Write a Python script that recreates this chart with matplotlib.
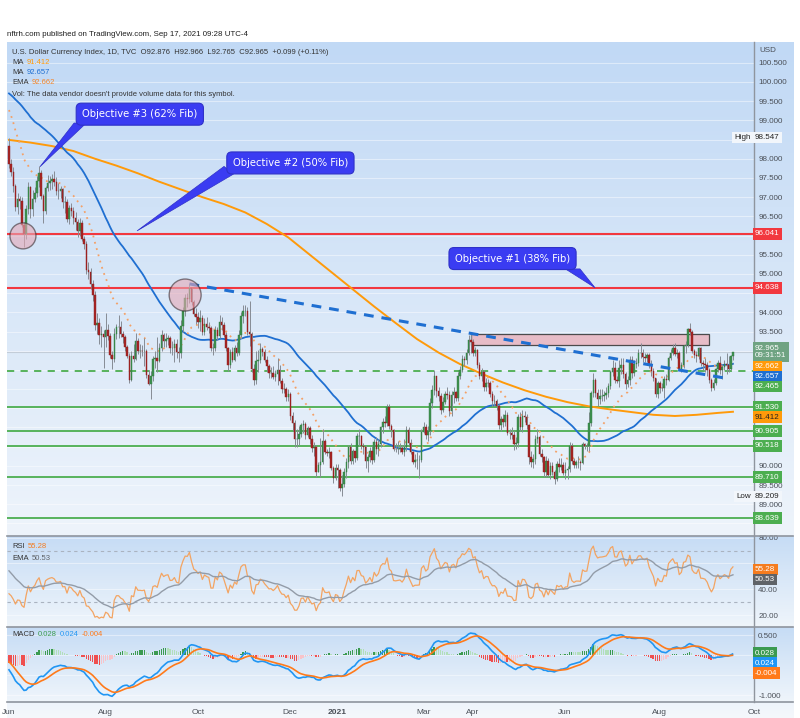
import numpy as np
import pandas as pd
import matplotlib
matplotlib.use('Agg')
import matplotlib.pyplot as plt
from matplotlib.colors import LinearSegmentedColormap
from matplotlib.patches import Polygon, Rectangle
from matplotlib.lines import Line2D

plt.rcParams['font.family'] = ['Liberation Sans Narrow', 'Liberation Sans', 'DejaVu Sans']

# DXY closes Apr-May 2020, only used to warm up the indicators (not drawn)
warmup_closes = [
    99.63, 100.23, 100.55, 100.67, 99.99, 100.09, 99.52, 99.44, 99.44, 98.89, 99.47,
    99.95, 99.77, 100.03, 100.22, 100.39, 100.44, 100.37, 100.10, 99.86, 99.50, 99.02,
    99.05, 99.45, 99.83, 100.23, 99.73, 99.75, 100.17, 100.01, 100.21, 100.44, 100.37,
    99.56, 99.62, 99.12, 99.43, 99.86, 99.79, 98.94, 99.04, 98.43, 98.34,
]

# DXY daily bars, 1 Jun 2020 - 17 Sep 2021 (open = previous close)
closes = [
    97.86, 97.66, 97.29, 96.73, 96.94, 96.90, 96.28, 96.05, 96.69, 97.26, 96.68, 96.96, 97.10, 97.43, 97.64, 97.02, 96.64, 97.24, 97.36, 97.43, 97.47, 97.39,
    97.17, 97.16, 97.20, 96.86, 96.87, 96.43, 96.72, 96.65, 96.46, 96.34, 96.11, 96.32, 95.92, 95.79, 95.09, 95.05, 94.74, 94.44, 93.68, 93.71, 93.40, 93.44, 93.35,
    93.53, 93.38, 92.88, 92.79, 93.43, 93.62, 93.62, 93.44, 93.35, 93.09, 92.86, 92.24, 92.87, 92.79, 93.26, 93.00, 93.00, 92.98, 93.00, 92.37, 92.14,
    92.35, 92.78, 92.82, 92.72, 93.08, 93.41, 93.24, 93.31, 93.33, 93.06, 93.07, 93.18, 92.97, 92.93, 93.64, 94.03, 94.36, 94.35, 94.64, 94.28, 93.96, 93.89,
    93.76, 93.84, 93.49, 93.70, 93.63, 93.59, 93.06, 93.06, 93.53, 93.38, 93.76, 93.68, 93.42, 93.06, 92.62, 92.97, 92.77, 93.06, 92.93, 93.41, 93.91, 94.04,
    94.04, 93.48, 93.44, 92.53, 92.23, 92.73, 92.76, 93.05, 92.97, 92.76, 92.60, 92.42, 92.43, 92.31, 92.39, 92.51, 92.21, 92.01, 91.99, 91.79, 91.87,
    91.31, 91.11, 90.70, 90.70, 90.83, 91.07, 91.08, 90.80, 90.98, 90.71, 90.46, 90.49, 89.84, 90.02, 90.10, 90.65, 90.36, 90.33, 90.36, 89.95, 89.68, 89.94,
    89.88, 89.43, 89.53, 89.83, 90.10, 90.49, 90.13, 90.39, 90.21, 90.77, 90.78, 90.52, 90.48, 90.12, 90.22, 90.38, 90.16, 90.63, 90.44, 90.58,
    91.00, 91.15, 91.13, 91.53, 91.04, 90.94, 90.45, 90.43, 90.45, 90.47, 90.37, 90.50, 90.94, 90.59, 90.36, 90.10, 90.15, 90.15, 90.16, 90.88,
    91.02, 90.80, 90.90, 91.65, 91.98, 92.34, 91.94, 91.82, 91.45, 91.67, 91.88, 91.84, 91.44, 91.85, 91.92, 91.76, 92.35, 92.49, 92.79, 92.75, 92.95, 93.29, 93.23,
    92.93, 93.02, 92.64, 92.33, 92.45, 92.05, 92.16, 92.15, 91.86, 91.68, 91.69, 91.56, 91.06, 91.22, 91.15, 91.32, 90.86, 90.85, 90.81, 90.58, 90.59, 91.28,
    91.00, 91.29, 91.27, 91.06, 90.22, 90.10, 90.19, 90.70, 90.75, 90.32, 90.22, 89.83, 90.13, 89.77, 90.01, 89.83, 89.66, 90.06, 89.97, 90.03, 89.82,
    89.90, 89.91, 90.52, 90.13, 90.03, 90.09, 90.09, 90.08, 90.58, 90.52, 90.53, 91.11, 91.90, 92.23, 91.90, 91.75, 91.81, 91.82, 91.85, 91.89, 92.09, 92.44,
    92.56, 92.23, 92.22, 92.55, 92.63, 92.39, 92.12, 92.24, 92.76, 92.43, 92.66, 92.69, 92.93, 92.95, 92.84, 92.82, 92.90, 92.62, 92.46, 92.28, 91.87, 92.17,
    92.03, 92.02, 92.26, 92.23, 92.80, 92.95, 93.07, 92.92, 92.95, 92.52, 92.62, 93.12, 93.16, 93.56, 93.50, 93.00, 92.88, 92.85, 93.06, 92.67, 92.66, 92.63,
    92.50, 92.23, 92.03, 92.16, 92.52, 92.67, 92.50, 92.58, 92.66, 92.62, 92.53, 92.86, 92.965,
]
highs = [
    98.55, 97.98, 97.78, 97.34, 97.12, 97.04, 97.00, 96.36, 96.80, 97.40, 97.30, 97.18, 97.27, 97.55, 97.82, 97.70, 97.08, 97.30, 97.58, 97.54, 97.60, 97.68,
    97.52, 97.38, 97.30, 97.25, 97.02, 96.95, 96.80, 96.85, 96.75, 96.60, 96.42, 96.45, 96.40, 96.00, 95.85, 95.30, 95.15, 94.85, 94.55, 93.98, 93.85, 93.65, 93.55,
    93.99, 93.70, 93.45, 93.00, 93.60, 93.70, 93.92, 93.77, 93.52, 93.42, 93.15, 92.94, 92.98, 93.18, 93.45, 93.34, 93.18, 93.14, 93.32, 93.05, 92.50,
    92.48, 92.86, 93.00, 93.35, 93.20, 93.54, 93.45, 93.45, 93.42, 93.38, 93.25, 93.30, 93.30, 93.10, 93.80, 94.15, 94.48, 94.50, 94.74, 94.60, 94.32, 94.10,
    94.00, 94.05, 93.92, 93.85, 93.88, 93.75, 93.65, 93.20, 93.65, 93.62, 93.92, 93.88, 93.75, 93.48, 93.10, 93.05, 93.10, 93.16, 93.22, 93.55, 94.02, 94.20,
    94.20, 94.15, 94.30, 93.50, 92.65, 93.00, 93.02, 93.21, 93.10, 93.05, 92.85, 92.65, 92.58, 92.60, 92.50, 92.80, 92.62, 92.30, 92.15, 92.05, 92.00,
    91.92, 91.40, 91.20, 90.95, 91.05, 91.12, 91.20, 91.15, 91.05, 91.05, 90.80, 90.62, 90.55, 90.10, 90.72, 90.95, 90.70, 90.45, 90.50, 90.40, 90.00, 90.05,
    90.05, 89.95, 89.75, 89.95, 90.20, 90.55, 90.60, 90.45, 90.40, 90.85, 90.95, 90.80, 90.60, 90.55, 90.32, 90.50, 90.52, 90.70, 90.75, 90.70,
    91.05, 91.25, 91.30, 91.60, 91.60, 91.10, 90.95, 90.60, 90.65, 90.60, 90.55, 90.70, 91.05, 91.00, 90.70, 90.40, 90.30, 90.35, 90.28, 90.95,
    91.15, 91.10, 91.05, 91.78, 92.10, 92.50, 92.35, 92.05, 91.90, 91.80, 91.95, 92.05, 91.95, 91.95, 92.05, 91.95, 92.45, 92.60, 92.90, 92.85, 93.05, 93.40, 93.44,
    93.30, 93.10, 93.05, 92.70, 92.55, 92.50, 92.30, 92.25, 92.20, 91.95, 91.85, 91.75, 91.60, 91.30, 91.35, 91.45, 91.40, 90.95, 91.00, 90.90, 90.75, 91.35,
    91.40, 91.45, 91.43, 91.35, 91.10, 90.40, 90.30, 90.80, 90.95, 90.80, 90.45, 90.25, 90.25, 90.20, 90.10, 90.10, 89.90, 90.12, 90.20, 90.20, 90.10,
    90.10, 90.00, 90.63, 90.60, 90.20, 90.15, 90.25, 90.15, 90.62, 90.60, 90.60, 91.40, 91.95, 92.41, 92.30, 92.00, 92.00, 92.00, 91.95, 92.05, 92.15, 92.50,
    92.75, 92.70, 92.35, 92.75, 92.80, 92.80, 92.45, 92.35, 92.85, 92.85, 92.75, 92.80, 93.05, 93.20, 93.05, 92.95, 92.95, 92.95, 92.75, 92.55, 92.30, 92.20,
    92.20, 92.15, 92.35, 92.40, 92.85, 93.05, 93.18, 93.20, 93.05, 93.00, 92.70, 93.15, 93.25, 93.59, 93.73, 93.55, 93.05, 93.00, 93.10, 93.10, 92.75, 92.80,
    92.70, 92.55, 92.30, 92.25, 92.55, 92.75, 92.85, 92.65, 92.75, 92.95, 92.85, 92.90, 92.97,
]
lows = [
    97.76, 97.54, 97.13, 96.63, 96.56, 96.70, 96.22, 95.71, 95.90, 96.57, 96.45, 96.52, 96.87, 97.00, 97.27, 96.95, 96.32, 96.55, 97.15, 97.18, 97.22, 97.30,
    97.05, 96.95, 96.98, 96.72, 96.58, 96.36, 96.30, 96.50, 96.30, 96.15, 95.95, 96.00, 95.85, 95.65, 95.00, 94.88, 94.60, 94.30, 93.55, 93.43, 93.17, 93.10, 92.55,
    93.10, 93.28, 92.80, 92.52, 92.70, 93.30, 93.33, 93.35, 93.20, 93.00, 92.80, 92.15, 92.20, 92.70, 92.76, 92.92, 92.80, 92.85, 92.60, 92.30, 92.10,
    91.75, 92.20, 92.55, 92.45, 92.70, 93.00, 93.10, 93.10, 93.15, 92.95, 92.90, 92.70, 92.80, 92.70, 92.80, 93.50, 93.90, 94.15, 94.24, 94.20, 93.90, 93.70,
    93.60, 93.52, 93.40, 93.40, 93.55, 93.45, 92.98, 92.90, 93.00, 93.28, 93.32, 93.55, 93.35, 92.98, 92.47, 92.55, 92.70, 92.72, 92.85, 92.90, 93.35, 93.72,
    93.90, 93.40, 93.12, 92.45, 92.10, 92.13, 92.45, 92.68, 92.85, 92.70, 92.45, 92.30, 92.30, 92.25, 92.20, 92.10, 92.15, 91.90, 91.90, 91.70, 91.70,
    91.20, 90.90, 90.50, 90.50, 90.55, 90.75, 90.85, 90.70, 90.75, 90.58, 90.35, 90.25, 89.72, 89.85, 89.70, 90.05, 90.30, 90.25, 90.20, 89.90, 89.55, 89.62,
    89.42, 89.35, 89.21, 89.45, 89.68, 89.95, 90.05, 90.05, 90.10, 90.15, 90.55, 90.45, 90.30, 89.95, 89.85, 90.10, 90.05, 90.10, 90.30, 90.25,
    90.50, 90.85, 91.00, 91.05, 90.95, 90.75, 90.40, 90.35, 90.30, 90.35, 90.30, 90.25, 90.40, 90.55, 90.30, 90.05, 89.98, 89.93, 89.68, 90.10,
    90.85, 90.70, 90.65, 90.80, 91.50, 91.85, 91.80, 91.70, 91.35, 91.40, 91.60, 91.75, 91.30, 91.30, 91.65, 91.70, 91.70, 92.25, 92.45, 92.60, 92.65, 92.90, 92.95,
    92.85, 92.85, 92.55, 92.25, 92.20, 91.95, 91.95, 92.05, 91.80, 91.55, 91.55, 91.45, 90.95, 90.90, 91.00, 91.05, 90.80, 90.70, 90.70, 90.42, 90.45, 90.50,
    90.90, 90.88, 91.15, 90.95, 90.05, 89.98, 89.95, 90.05, 90.60, 90.25, 90.10, 89.70, 89.70, 89.70, 89.65, 89.75, 89.53, 89.60, 89.85, 89.90, 89.75,
    89.66, 89.65, 89.85, 90.05, 89.95, 89.95, 89.95, 89.90, 90.05, 90.45, 90.40, 90.40, 91.05, 91.80, 91.80, 91.55, 91.60, 91.70, 91.70, 91.75, 91.80, 92.00,
    92.35, 92.15, 92.15, 92.05, 92.40, 92.30, 92.00, 92.05, 92.10, 92.30, 92.35, 92.55, 92.60, 92.80, 92.70, 92.70, 92.70, 92.55, 92.35, 92.20, 91.80, 91.78,
    91.90, 91.95, 91.78, 92.10, 92.20, 92.75, 92.90, 92.85, 92.80, 92.50, 92.45, 92.55, 92.95, 93.10, 93.40, 92.95, 92.80, 92.70, 92.78, 92.60, 92.50, 92.45,
    92.35, 92.15, 91.94, 91.98, 92.10, 92.45, 92.40, 92.25, 92.50, 92.40, 92.45, 92.50, 92.77,
]

# 200-day MA, every ten bars
ma200_bars = [0, 10, 20, 30, 40, 50, 60, 70, 80, 90, 100, 110, 120, 130, 140, 150, 160, 170,
              180, 190, 200, 210, 220, 230, 240, 250, 260, 270, 280, 290, 300, 310, 320, 330, 337]
ma200_vals = [98.49, 98.42, 98.33, 98.20, 98.00, 97.82, 97.62, 97.40, 97.20, 97.00, 96.82, 96.60,
              96.30, 95.95, 95.50, 95.05, 94.60, 94.15, 93.72, 93.30, 92.95, 92.65, 92.40, 92.17,
              91.97, 91.80, 91.66, 91.55, 91.47, 91.40, 91.33, 91.30, 91.33, 91.38, 91.41]

month_bars = [0, 45, 88, 131, 153, 193, 216, 259, 303, 347]
month_labels = ['Jun', 'Aug', 'Oct', 'Dec', '2021', 'Mar', 'Apr', 'Jun', 'Aug', 'Oct']

red_levels = [96.041, 94.638]
green_levels = [91.530, 90.905, 90.518, 89.710, 88.639]
dashed_level = 92.465
last_price = 92.965
range_high, range_low = 98.547, 89.209
ma200_last, ma50_last, ema_last = 91.412, 92.657, 92.662
rsi_last, rsi_ema_last = 55.28, 50.53
hist_last, macd_last, signal_last = 0.028, 0.024, -0.004

trend_bars, trend_vals = [84, 335], [94.74, 92.27]
zone_bars, zone_vals = [215, 326], [93.15, 93.44]
circle_bars, circle_vals, circle_sizes = [6.5, 82], [95.99, 94.45], [350, 530]

callouts = [
    # text, box centre, wedge base 1, wedge base 2, tip   (bar, price)
    ('Objective #3 (62% Fib)', (60.9, 99.16), (30.3, 98.93), (36.0, 98.93), (14.4, 97.79)),
    ('Objective #2 (50% Fib)', (131.0, 97.89), (100.1, 97.80), (104.5, 97.60), (59.6, 96.12)),
    ('Objective #1 (38% Fib)', (234.4, 95.40), (259.0, 95.13), (265.8, 95.13), (272.8, 94.64)),
]

# ---------------------------------------------------------------- indicators
full = pd.Series(warmup_closes + closes, dtype=float)
nw = len(warmup_closes)
ma50 = full.rolling(50, min_periods=20).mean().values[nw:]
ema20 = full.ewm(span=20, adjust=False).mean().values[nw:]
delta = full.diff()
gain = delta.clip(lower=0).ewm(alpha=1 / 14, adjust=False).mean()
loss = (-delta.clip(upper=0)).ewm(alpha=1 / 14, adjust=False).mean()
rsi_full = 100 - 100 / (1 + gain / loss)
rsi = rsi_full.values[nw:]
rsi_ema = rsi_full.ewm(span=20, adjust=False).mean().values[nw:]
macd_full = full.ewm(span=12, adjust=False).mean() - full.ewm(span=26, adjust=False).mean()
signal_full = macd_full.ewm(span=9, adjust=False).mean()
macd = macd_full.values[nw:]
signal = signal_full.values[nw:]
hist_full = macd_full - signal_full
hist = hist_full.values[nw:]
hist_prev = hist_full.shift(1).values[nw:]

c = np.array(closes)
o = np.r_[warmup_closes[-1], c[:-1]]
h = np.maximum(np.array(highs), np.maximum(o, c))
l = np.minimum(np.array(lows), np.minimum(o, c))
x = np.arange(len(c))

# ---------------------------------------------------------------- layout
W, H = 800, 718
fig = plt.figure(figsize=(W / 100, H / 100), dpi=100)
fig.patch.set_facecolor('white')
renderer = fig.canvas.get_renderer()


def frame(top, bottom, left=7, right=754):
    return [left / W, 1 - bottom / H, (right - left) / W, (bottom - top) / H]


def px(xp, yp):
    return xp / W, 1 - yp / H


def backdrop(top, bottom, c0, c1):
    bg = fig.add_axes(frame(top, bottom, 7, 793), zorder=-10)
    cmap = LinearSegmentedColormap.from_list('bg', [c0, c1])
    bg.imshow(np.linspace(0, 1, 200)[:, None], aspect='auto', cmap=cmap, extent=(0, 1, 0, 1))
    bg.axis('off')


backdrop(42, 536, '#c1d9f5', '#eef4fb')
backdrop(536, 627, '#c6dcf5', '#eff5fb')
backdrop(627, 702, '#c6dcf5', '#eff5fb')
backdrop(702, 718, '#eef4fb', '#f5f8fc')

XLIM = (-0.93, 346.8)


def pane(top, bottom, ylim, ticks, fmt):
    ax = fig.add_axes(frame(top, bottom))
    ax.set_facecolor('none')
    ax.set_xlim(*XLIM)
    ax.set_ylim(*ylim)
    for s in ax.spines.values():
        s.set_visible(False)
    ax.set_xticks([])
    ax.yaxis.tick_right()
    ax.set_yticks(ticks)
    ax.set_yticklabels([fmt % t for t in ticks])
    ax.tick_params(axis='y', length=0, pad=3, labelsize=5.8, labelcolor='#4a4f57')
    ax.grid(axis='y', color='white', alpha=0.45, lw=0.8)
    return ax


ax = pane(42, 535, (88.2, 101.04), np.arange(88.5, 100.51, 0.5), '%.3f')
ax_rsi = pane(537, 626, (11.5, 80.5), [20, 40, 60, 80], '%.2f')
ax_macd = pane(628, 702, (-1.175, 0.675), [0.5, 0.0, -0.5, -1.0], '%.3f')

# ---------------------------------------------------------------- price pane
for lv in red_levels:
    ax.axhline(lv, color='#f2383f', lw=1.5, zorder=2)
for lv in green_levels:
    ax.axhline(lv, color='#4cae50', lw=1.3, zorder=2)
ax.axhline(dashed_level, color='#4cae50', lw=1.3, ls=(0, (4, 3.5)), zorder=2)
ax.axhline(last_price, color='#c2ccd8', lw=0.8, zorder=1)

ax.add_patch(Rectangle((zone_bars[0], zone_vals[0]), zone_bars[1] - zone_bars[0], zone_vals[1] - zone_vals[0],
                       fc='#e9b8c2', ec='#3c3c3c', lw=0.9, alpha=0.9, zorder=2))

ax.plot(ma200_bars, ma200_vals, color='#ff9a0a', lw=1.4, zorder=3)
ax.plot(x, ma50, color='#1f6fd1', lw=1.3, zorder=3)
ax.plot(x, ema20, color='#f4a066', lw=1.3, ls=(0, (1, 2.6)), zorder=3)

up = c >= o
ax.vlines(x, l, h, color='#868c94', lw=0.7, zorder=4)
ax.bar(x[up], (c - o)[up], bottom=o[up], width=0.7, color='#3f9150', ec='#2f7a40', lw=0.3, zorder=5)
ax.bar(x[~up], (o - c)[~up], bottom=c[~up], width=0.7, color='#a82626', ec='#8a1c1c', lw=0.3, zorder=5)

ax.plot(trend_bars, trend_vals, color='#1f6fd1', lw=2.2, ls=(0, (3.2, 2.6)), zorder=6)
ax.scatter(circle_bars, circle_vals, s=circle_sizes, fc='#e6a9b6', ec='#3a2f32', lw=1.0, alpha=0.6, zorder=7)

blue = '#3a3cf2'
for txt, box, b1, b2, tip in callouts:
    ax.add_patch(Polygon([b1, tip, b2], closed=True, fc=blue, ec='#2f31c8', lw=0.5, zorder=8))
    ax.text(box[0], box[1], txt, ha='center', va='center', color='white', fontsize=7.2,
            family=['DejaVu Sans'], zorder=9,
            bbox=dict(boxstyle='round,pad=0.6,rounding_size=0.5', fc=blue, ec='#2f31c8', lw=0.8))

# ---------------------------------------------------------------- RSI pane
for lv in (70, 30):
    ax_rsi.axhline(lv, color='#aab3c0', lw=0.8, ls=(0, (3, 3)))
ax_rsi.plot(x, rsi, color='#f3a462', lw=0.9)
ax_rsi.plot(x, rsi_ema, color='#939ca8', lw=1.0)

# ---------------------------------------------------------------- MACD pane
hcol = np.where(hist >= 0,
                np.where(hist >= hist_prev, '#3b9a50', '#b2dfba'),
                np.where(hist < hist_prev, '#ef4f4f', '#f8c3c9'))
ax_macd.bar(x, hist, width=0.6, color=hcol, zorder=2)
ax_macd.plot(x, macd, color='#2196f3', lw=1.2, zorder=3)
ax_macd.plot(x, signal, color='#ff7a1a', lw=1.2, zorder=3)

ax_macd.set_xticks(month_bars)
ax_macd.set_xticklabels(month_labels)
ax_macd.tick_params(axis='x', length=0, pad=5, labelsize=6, labelcolor='#4a4f57')
ax_macd.get_xticklabels()[4].set_fontweight('bold')

# ---------------------------------------------------------------- frame lines
for yy in (536, 627, 702):
    fig.add_artist(Line2D([7 / W, 793 / W], [1 - yy / H] * 2, color='#8f959e', lw=1.2))
fig.add_artist(Line2D([754 / W] * 2, [1 - 42 / H, 1 - 702 / H], color='#8f959e', lw=1.0))


# ---------------------------------------------------------------- axis label boxes
def axis_labels(a, items, xpos=755):
    placed = []
    for v, txt, fc, tc, hgt in sorted(items, key=lambda t: -t[0]):
        y = a.transData.transform((0, v))[1]
        if placed:
            py, ph = placed[-1]
            y = min(y, py - (ph + hgt) / 2)
        placed.append((y, hgt))
        fig.text(xpos / W, y / H, txt, ha='left', va='center', fontsize=5.8, color=tc,
                 linespacing=1.15, zorder=20,
                 bbox=dict(boxstyle='square,pad=0.28', fc=fc, ec='none'))
    # hide the scale labels that a box covers
    for t, lab in zip(a.get_yticks(), a.get_yticklabels()):
        ty = a.transData.transform((0, t))[1]
        if any(abs(ty - py) < ph / 2 + 2.5 for py, ph in placed):
            lab.set_visible(False)


axis_labels(ax, [
    (range_high, '98.547', '#f2f6fb', '#222222', 10),
    (red_levels[0], '96.041', '#f2383f', 'white', 10),
    (red_levels[1], '94.638', '#f2383f', 'white', 10),
    (last_price, '92.965\n09:31:51', '#6fa382', 'white', 19),
    (ema_last, '92.662', '#ff9a0a', 'white', 10),
    (ma50_last, '92.657', '#1f6fd1', 'white', 10),
    (dashed_level, '92.465', '#4cae50', 'white', 10),
    (green_levels[0], '91.530', '#4cae50', 'white', 10),
    (ma200_last, '91.412', '#ff9a0a', '#222222', 10),
    (green_levels[1], '90.905', '#4cae50', 'white', 10),
    (green_levels[2], '90.518', '#4cae50', 'white', 10),
    (green_levels[3], '89.710', '#4cae50', 'white', 10),
    (range_low, '89.209', '#f2f6fb', '#222222', 10),
    (green_levels[4], '88.639', '#4cae50', 'white', 10),
])
axis_labels(ax_rsi, [
    (rsi_last, '55.28', '#f57c1f', 'white', 10),
    (rsi_ema_last, '50.53', '#5f6368', 'white', 10),
])
axis_labels(ax_macd, [
    (hist_last + 0.02, '0.028', '#3b9a50', 'white', 10),
    (macd_last, '0.024', '#2196f3', 'white', 10),
    (signal_last - 0.02, '-0.004', '#ff7a1a', 'white', 10),
])

for lbl, v in (('High', range_high), ('Low', range_low)):
    yy = ax.transData.transform((0, v))[1]
    fig.text(751 / W, yy / H, lbl, ha='right', va='center', fontsize=5.8, color='#222222',
             bbox=dict(boxstyle='square,pad=0.28', fc='#f2f6fb', ec='none'), zorder=20)
fig.text(*px(759, 51), 'USD', ha='left', va='center', fontsize=5.8, color='#4a4f57')

# ---------------------------------------------------------------- header / legends
fs = 5.5


def legend_row(xp, yp, parts):
    # parts: (text, colour) drawn one after the other
    for txt, col in parts:
        t = fig.text(*px(xp, yp), txt, fontsize=fs, color=col, va='center')
        xp = t.get_window_extent(renderer).x1 + 3


fig.text(*px(7, 34), 'nftrh.com published on TradingView.com, Sep 17, 2021 09:28 UTC-4',
         fontsize=fs + 0.2, color='#1e1e1e', va='center')
legend_row(12, 52, [('U.S. Dollar Currency Index, 1D, TVC  O92.876  H92.966  L92.765  C92.965  +0.099 (+0.11%)', '#333333')])
legend_row(12, 62, [('MA', '#333333'), ('91.412', '#ff9a0a')])
legend_row(12, 72, [('MA', '#333333'), ('92.657', '#1f6fd1')])
legend_row(12, 83, [('EMA', '#333333'), ('92.662', '#f4862a')])
legend_row(12, 94, [("Vol: The data vendor doesn't provide volume data for this symbol.", '#333333')])

legend_row(12, 546, [('RSI', '#333333'), ('55.28', '#f57c1f')])
legend_row(12, 558, [('EMA', '#333333'), ('50.53', '#5f6368')])
legend_row(12, 635, [('MACD', '#333333'), ('0.028', '#3b9a50'), ('0.024', '#2196f3'), ('-0.004', '#ff7a1a')])

fig.savefig('out.png', dpi=100)
